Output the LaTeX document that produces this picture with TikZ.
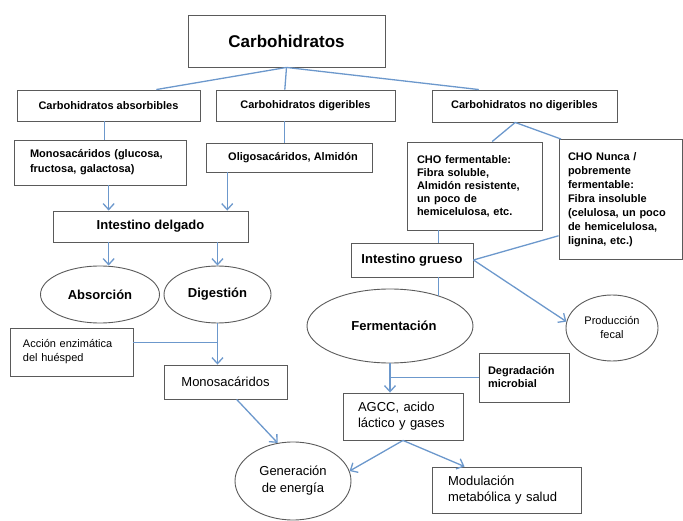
\documentclass[tikz,border=0pt]{standalone}
\usepackage{fontspec}
\setmainfont{Liberation Sans}
\usepackage{tikz}
\usetikzlibrary{calc,shapes.geometric,arrows.meta}
\definecolor{linkblue}{RGB}{108,152,204}
\definecolor{edgegray}{RGB}{90,90,90}
\tikzset{
	box/.style={draw=edgegray,line width=0.9pt,rectangle,inner sep=0pt,align=center},
	lbox/.style={box,align=left},
	oval/.style={draw=edgegray,line width=0.9pt,ellipse,inner sep=0pt,align=center},
	link/.style={draw=linkblue,line width=1.3pt},
	flow/.style={link,-{Straight Barb[length=6pt,width=11pt]}},
	big/.style={font=\fontsize{17}{20}\selectfont\bfseries},
	hd/.style={font=\fontsize{11}{13}\selectfont\bfseries},
	hdl/.style={font=\fontsize{13}{16}\selectfont\bfseries},
	tx/.style={font=\fontsize{13}{16}\selectfont},
	txs/.style={font=\fontsize{11}{14}\selectfont}
}

\begin{document}
\begin{tikzpicture}[x=1pt,y=-1pt]
				\useasboundingbox (0,0) rectangle (683,521);
				
				\node[box,big,minimum width=197,minimum height=52] (carb) at (286.5,41) {Carbohidratos};
				
				\node[box,hd,minimum width=183,minimum height=31] (absb) at (108.5,105.5) {Carbohidratos absorbibles};
				\node[box,hd,minimum width=179,minimum height=31] (digb) at (305.5,105.5) {Carbohidratos digeribles};
				\node[box,hd,minimum width=185,minimum height=32] (nodig) at (524.5,106) {Carbohidratos no digeribles};
				
				\node[lbox,font=\fontsize{11}{15}\selectfont\bfseries,minimum width=172,minimum height=45,text width=140,inner xsep=16] (monog) at (100,162.5) {Monosacáridos (glucosa,\\fructosa, galactosa)};
				\node[box,hd,minimum width=166,minimum height=29] (oligo) at (289,157.5) {\hspace*{8pt}Oligosacáridos, Almidón};
				\node[lbox,hd,minimum width=135,minimum height=88,text width=115,inner xsep=10] (chof) at (474.5,186) {CHO fermentable:\\Fibra soluble,\\Almidón resistente,\\un poco de\\hemicelulosa, etc.};
				\node[lbox,font=\fontsize{11}{14}\selectfont\bfseries,minimum width=123,minimum height=120,text width=105,inner xsep=9] (nunca) at (620.5,199.5) {CHO Nunca /\\pobremente\\fermentable:\\Fibra insoluble\\(celulosa, un poco\\de hemicelulosa,\\lignina, etc.)};
				
				\node[box,hdl,minimum width=195,minimum height=31] (delgado) at (150.5,226.5) {Intestino delgado};
				\node[oval,hdl,minimum width=119,minimum height=57] (absor) at (100,294.5) {Absorción};
				\node[oval,hdl,minimum width=107,minimum height=57] (digo) at (217.5,294.5) {Digestión};
				
				\node[box,hdl,minimum width=122,minimum height=34] (grueso) at (412,260) {Intestino grueso};
				\node[oval,hdl,minimum width=166,minimum height=74] (ferm) at (390,326) {\hspace*{8pt}Fermentación};
				\node[oval,txs,minimum width=92,minimum height=66] (fecal) at (612,328) {Producción\\fecal};
				
				\node[lbox,txs,minimum width=123,minimum height=48,text width=97,inner xsep=13] (accion) at (71.5,352) {Acción enzimática\\del huésped};
				\node[box,tx,minimum width=123,minimum height=34] (mono) at (225.5,382) {Monosacáridos};
				\node[lbox,hd,minimum width=90,minimum height=49,text width=72,inner xsep=9] (degr) at (524,377.5) {Degradación\\microbial};
				\node[lbox,tx,minimum width=120,minimum height=47,text width=90,inner xsep=15] (agcc) at (403,416.5) {AGCC, acido\\láctico y gases};
				\node[oval,font=\fontsize{13}{17}\selectfont,minimum width=116,minimum height=78] (gen) at (293,481) {Generación\\de energía};
				\node[lbox,tx,minimum width=149,minimum height=46,text width=117,inner xsep=16] (modul) at (506.5,490) {Modulación\\metabólica y salud};
				
				\draw[link] (carb.south) -- ($(absb.north west)!.76!(absb.north east)$);
				\draw[link] (carb.south) -- ($(digb.north west)!.385!(digb.north east)$);
				\draw[link] (carb.south) -- ($(nodig.north west)!.254!(nodig.north east)$);
				
				\coordinate (ax) at ($(absb.south west)!.48!(absb.south east)$);
				\draw[link] (ax) -- (ax |- monog.north);
				\coordinate (dx) at ($(digb.south west)!.385!(digb.south east)$);
				\draw[link] (dx) -- (dx |- oligo.north);
				\coordinate (split) at ($(nodig.south west)!.45!(nodig.south east)$);
				\draw[link] (split) -- ($(chof.north west)!.63!(chof.north east)$);
				\draw[link] (split) -- ($(nunca.north west)!.02!(nunca.north east)$);
				
				\coordinate (mx) at ($(monog.south west)!.55!(monog.south east)$);
				\draw[flow] (mx) -- (mx |- delgado.north);
				\coordinate (ox) at ($(oligo.south west)!.13!(oligo.south east)$);
				\draw[flow] (ox) -- (ox |- delgado.north);
				\draw[flow] (mx |- delgado.south) -- (mx |- absor.north);
				\draw[flow] (digo.north |- delgado.south) -- (digo.north);
				
				\draw[flow] (digo.south) -- (digo.south |- mono.north);
				\coordinate (acc) at ($(accion.north east)!.3!(accion.south east)$);
				\draw[link] (acc) -- (acc -| digo.south);
				\draw[flow] ($(mono.south west)!.59!(mono.south east)$) -- (gen.112);
				
				\draw[link] (ferm.32 |- chof.south) -- (ferm.32 |- grueso.north);
				\draw[link] (ferm.32 |- grueso.south) -- (ferm.32);
				\draw[link] ($(nunca.north west)!.8!(nunca.south west)$) -- (grueso.east);
				\draw[flow] (grueso.east) -- (fecal.172);
				
				\draw[flow] (ferm.south) -- (ferm.south |- agcc.north);
				\draw[link] (degr.west) -- (degr.west -| ferm.south);
				\draw[flow] (agcc.south) -- (gen.10);
				\draw[flow] (agcc.south) -- ($(modul.north west)!.22!(modul.north east)$);
			\end{tikzpicture}
\end{document}
